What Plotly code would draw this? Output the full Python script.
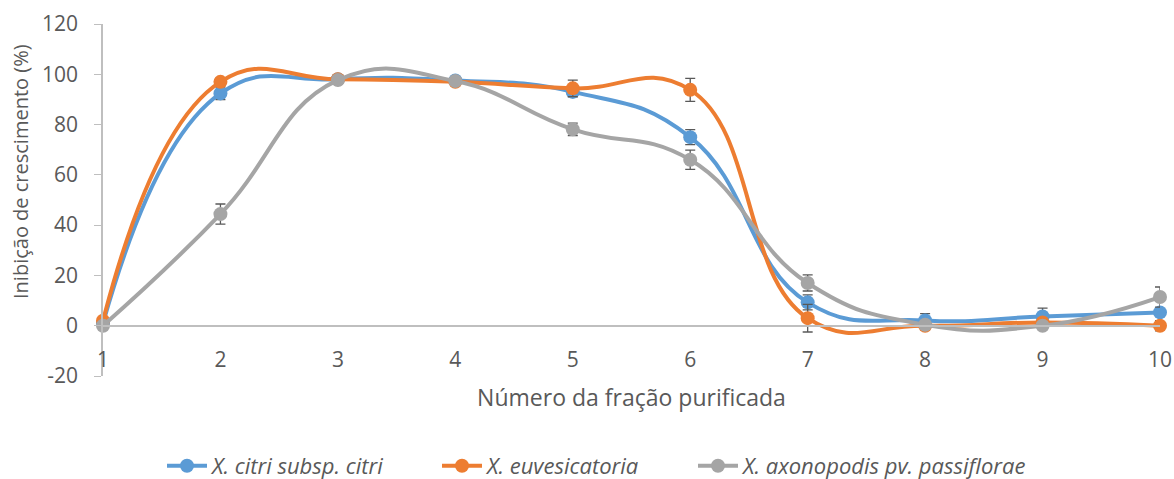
import plotly.graph_objects as go

fractions = [1, 2, 3, 4, 5, 6, 7, 8, 9, 10]
series_names = ["X. citri subsp. citri", "X. euvesicatoria", "X. axonopodis pv. passiflorae"]
citri = [1, 92.4, 98, 97.5, 93, 75, 9.3, 2.1, 3.7, 5.3]
citri_err = [1, 2.5, 1, 1, 2, 3, 3, 2.7, 3.3, 1.5]
euvesicatoria = [2, 97, 98, 97, 94.4, 93.8, 3, 0, 1.3, 0]
euvesicatoria_err = [1, 1.5, 1, 1, 3.3, 4.6, 5.5, 1.5, 1.5, 2]
passiflorae = [0, 44.4, 97.7, 97.3, 78.1, 66, 17, 0.4, 0, 11.4]
passiflorae_err = [0.5, 4, 1, 1, 2.5, 3.8, 3.2, 1, 1, 4]
colors = ["#5B9BD5", "#ED7D31", "#A5A5A5"]
ytick_vals = [-20, 0, 20, 40, 60, 80, 100, 120]
ytick_text = ["-20", "0", "20", "40", "60", "80", "100", "120"]

FONT = "Open Sans"
TXT = "#595959"
W, H = 1174, 479

legend_refs = ["legend", "legend2", "legend3"]
legend_text_x = [214, 489, 745]

fig = go.Figure()
for name, vals, errs, c, lg in zip(series_names,
                                   [citri, euvesicatoria, passiflorae],
                                   [citri_err, euvesicatoria_err, passiflorae_err],
                                   colors, legend_refs):
    fig.add_trace(go.Scatter(
        x=fractions, y=vals, name=name, mode="lines+markers",
        line=dict(color=c, width=4, shape="spline", smoothing=1.3),
        marker=dict(color=c, size=14),
        error_y=dict(type="data", array=errs, visible=True, color="#595959",
                     thickness=1.3, width=5),
        cliponaxis=False, legend=lg,
    ))

legend_common = dict(orientation="h", xref="container", yref="container",
                     xanchor="left", y=1 - 466 / H, yanchor="middle",
                     font=dict(family=FONT, size=22, color=TXT, style="italic"),
                     itemwidth=40, bgcolor="rgba(0,0,0,0)")
legends = {}
for lg, tx in zip(legend_refs, legend_text_x):
    legends[lg] = dict(legend_common, x=(tx - 52) / W)

fig.update_layout(
    width=W, height=H,
    margin=dict(l=103, r=14, t=24, b=103),
    paper_bgcolor="white", plot_bgcolor="white",
    font=dict(family=FONT, color=TXT, size=21),
    showlegend=True,
    **legends,
    xaxis=dict(range=[1, 10], tickvals=fractions, ticks="outside", ticklen=15,
               tickcolor="rgba(0,0,0,0)", showgrid=False, automargin=False,
               zeroline=False, showline=True, linecolor="#BFBFBF", linewidth=1.5,
               anchor="free", position=20 / 140,
               tickfont=dict(size=21, color=TXT),
               title=dict(text="Número da fração purificada", font=dict(size=23, color=TXT), standoff=17)),
    yaxis=dict(range=[-20, 120], tickvals=ytick_vals, ticktext=ytick_text,
               ticks="outside", ticklen=7, tickcolor="#BFBFBF", showgrid=False,
               ticklabelstandoff=12, automargin=False,
               zeroline=False, showline=True, linecolor="#BFBFBF", linewidth=1.5,
               tickfont=dict(size=21, color=TXT)),
    annotations=[dict(text="Inibição de crescimento (%)", textangle=-90,
                      xref="paper", yref="paper", x=-83 / 1057, y=(376 - 172) / 352,
                      xanchor="center", yanchor="middle", showarrow=False,
                      font=dict(size=20, color=TXT))],
)

fig.write_html("out.html", config={"displayModeBar": False},
               post_script="document.body.style.margin='0px';")
